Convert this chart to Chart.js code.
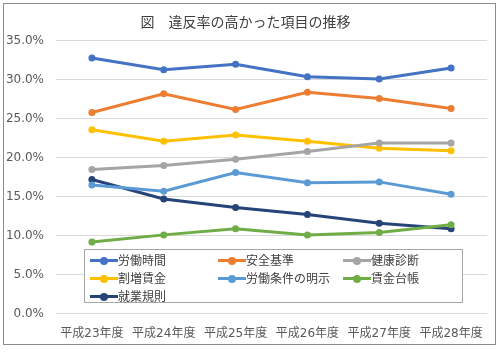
<!DOCTYPE html>
<html><head><meta charset="utf-8">
<script src="https://cdn.jsdelivr.net/npm/chart.js@4/dist/chart.umd.min.js"></script>
<style>
html,body{margin:0;padding:0;background:#fff;}
#wrap{position:relative;width:500px;height:352px;}
#frame{position:absolute;left:3px;top:3px;width:493px;height:342px;border:1px solid #8c8c8c;box-sizing:border-box;pointer-events:none;}
#c{position:absolute;left:0;top:0;}
#legend{position:absolute;left:84px;top:249px;width:379px;height:54px;border:1px solid #a6a6a6;box-sizing:border-box;background:#fff;
 font-family:"Noto Sans CJK JP","DejaVu Sans",sans-serif;font-size:12px;color:#404040;}
.item{position:absolute;height:18px;line-height:18px;white-space:nowrap;}
.sym{position:absolute;left:0;top:8px;width:28px;height:3px;}
.dot{position:absolute;left:10px;top:-2.5px;width:8px;height:8px;border-radius:50%;}
.txt{position:absolute;left:28px;top:0;}
</style></head>
<body>
<div id="wrap">
<canvas id="c" width="500" height="352"></canvas>
<div id="legend"></div>
<div id="frame"></div>
</div>
<script>
const categories = ["平成23年度","平成24年度","平成25年度","平成26年度","平成27年度","平成28年度"];
const seriesNames = ["労働時間","安全基準","健康診断","割増賃金","労働条件の明示","賃金台帳","就業規則"];
const rodoJikan   = [0.328,0.313,0.320,0.304,0.301,0.315];
const anzenKijun  = [0.258,0.282,0.262,0.284,0.276,0.263];
const kenkoShindan= [0.185,0.190,0.198,0.208,0.219,0.219];
const warimashi   = [0.236,0.221,0.229,0.221,0.212,0.209];
const joken       = [0.165,0.157,0.181,0.168,0.169,0.153];
const chinginDaicho=[0.092,0.101,0.109,0.101,0.104,0.114];
const shugyoKisoku= [0.172,0.147,0.136,0.127,0.116,0.109];
const yTicks = [0,0.05,0.10,0.15,0.20,0.25,0.30,0.35];

const values = [rodoJikan,anzenKijun,kenkoShindan,warimashi,joken,chinginDaicho,shugyoKisoku];
const colors = ["#4472C4","#ED7D31","#A5A5A5","#FFC000","#5B9BD5","#70AD47","#264478"];
const FONT = '"DejaVu Sans","Noto Sans CJK JP",sans-serif';

const datasets = seriesNames.map((n,i)=>({
  label:n, data:values[i], borderColor:colors[i], backgroundColor:colors[i],
  borderWidth:3, pointRadius:3.5, pointBorderWidth:0, pointBackgroundColor:colors[i], tension:0
}));

new Chart(document.getElementById('c'),{
  type:'line',
  data:{labels:categories,datasets},
  options:{
    responsive:false, animation:false,
    layout:{padding:{left:4,right:13,top:0,bottom:6}},
    plugins:{
      legend:{display:false},
      tooltip:{enabled:false},
      title:{display:true,text:"図　違反率の高かった項目の推移",color:"#404040",
        font:{family:'"Noto Sans CJK JP",sans-serif',size:14,weight:'normal'},padding:{top:13,bottom:11}}
    },
    scales:{
      x:{offset:true,grid:{display:false},border:{display:false},
        ticks:{color:"#595959",font:{family:FONT,size:12},padding:5,maxRotation:0}},
      y:{min:0,max:0.35,
        afterBuildTicks:(s)=>{s.ticks=yTicks.map(v=>({value:v}));},
        afterFit:(s)=>{s.width=52;},
        grid:{color:"#d9d9d9",drawTicks:false},border:{display:false},
        ticks:{color:"#595959",font:{family:FONT,size:12},padding:12,
          callback:(v)=>(v*100).toFixed(1)+"%"}}
    }
  }
});

const lg = document.getElementById('legend');
const colX=[5,133,258], rowY=[1,19,37];
seriesNames.forEach((n,i)=>{
  const d=document.createElement('div'); d.className='item';
  d.style.left=colX[i%3]+'px'; d.style.top=rowY[Math.floor(i/3)]+'px';
  d.innerHTML='<div class="sym" style="background:'+colors[i]+'"><div class="dot" style="background:'+colors[i]+'"></div></div><span class="txt">'+n+'</span>';
  lg.appendChild(d);
});
</script>
</body></html>
